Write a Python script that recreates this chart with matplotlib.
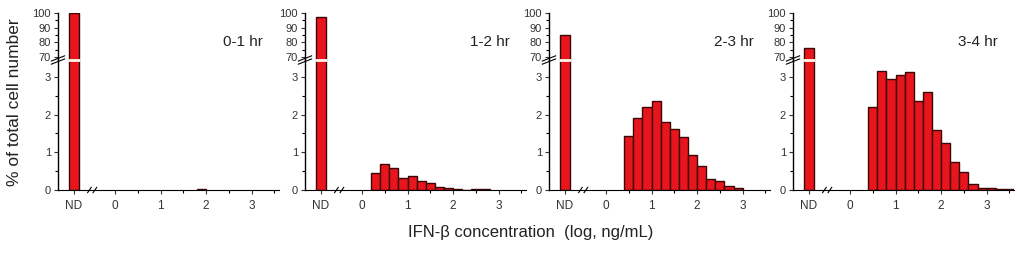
import matplotlib.pyplot as plt
from matplotlib.ticker import MultipleLocator
import numpy as np

plt.rcParams['font.family'] = ['Liberation Sans', 'DejaVu Sans']

# data
panel_titles = ['0-1 hr', '1-2 hr', '2-3 hr', '3-4 hr']
nd_values = [100, 97, 85, 76]
bin_width = 0.2

bins_01 = [1.8]
vals_01 = [0.02]

bins_12 = [0.2, 0.4, 0.6, 0.8, 1.0, 1.2, 1.4, 1.6, 1.8, 2.0, 2.2, 2.4, 2.6]
vals_12 = [0.44, 0.68, 0.59, 0.32, 0.36, 0.24, 0.18, 0.09, 0.06, 0.03, 0.0, 0.02, 0.02]

bins_23 = [0.4, 0.6, 0.8, 1.0, 1.2, 1.4, 1.6, 1.8, 2.0, 2.2, 2.4, 2.6, 2.8]
vals_23 = [1.43, 1.92, 2.19, 2.36, 1.80, 1.63, 1.40, 0.92, 0.65, 0.29, 0.25, 0.10, 0.04]

bins_34 = [0.4, 0.6, 0.8, 1.0, 1.2, 1.4, 1.6, 1.8, 2.0, 2.2, 2.4, 2.6, 2.8, 3.0, 3.2, 3.4]
vals_34 = [2.21, 3.17, 2.95, 3.05, 3.13, 2.36, 2.60, 1.60, 1.24, 0.74, 0.49, 0.16, 0.06, 0.04, 0.02, 0.02]

panel_bins = [bins_01, bins_12, bins_23, bins_34]
panel_vals = [vals_01, vals_12, vals_23, vals_34]

nd_pos = -0.9
xticks = [nd_pos, 0, 1, 2, 3]
xticklabels = ['ND', '0', '1', '2', '3']

face = '#e8161c'
edge = '#3a0505'

W, H = 1017, 254
fig = plt.figure(figsize=(W / 100, H / 100), dpi=100)

lefts = [58, 305, 549, 793]
width = 221
top_y0, top_y1 = 13, 60      # pixel rows from the top
bot_y0, bot_y1 = 60, 190

def px_rect(x, y0, y1):
    return [x / W, (H - y1) / H, width / W, (y1 - y0) / H]

for i in range(4):
    axt = fig.add_axes(px_rect(lefts[i], top_y0, top_y1))
    axb = fig.add_axes(px_rect(lefts[i], bot_y0, bot_y1))

    for ax in (axt, axb):
        ax.bar(nd_pos, nd_values[i], width=0.2, color=face, edgecolor=edge, linewidth=1)
        ax.bar(panel_bins[i], panel_vals[i], width=bin_width, align='edge',
               color=face, edgecolor=edge, linewidth=1)
        ax.set_xlim(-1.25, 3.6)
        for s in ('top', 'right'):
            ax.spines[s].set_visible(False)
        ax.spines['left'].set_linewidth(1)
        ax.tick_params(labelsize=8, length=3, width=0.8, colors='#333333', pad=2)
        ax.tick_params(which='minor', length=2, width=0.8)

    axt.set_ylim(68, 100)
    axt.spines['bottom'].set_visible(False)
    axt.set_xticks([])
    axt.set_yticks([70, 80, 90, 100])
    axt.yaxis.set_minor_locator(MultipleLocator(5))
    axt.text(2.8, 80, panel_titles[i], fontsize=11, ha='center', va='center',
             color='#222222')

    axb.set_ylim(0, 3.45)
    axb.set_yticks([0, 1, 2, 3])
    axb.yaxis.set_minor_locator(MultipleLocator(0.5))
    axb.set_xticks(xticks)
    axb.set_xticklabels(xticklabels)
    axb.set_xticks([0.5, 1.5, 2.5, 3.5], minor=True)
    axb.tick_params(axis='x', labelsize=8.5, pad=4)

    # white gap across the ND bar at the break
    axb.plot([nd_pos - 0.13, nd_pos + 0.13], [3.44, 3.44], color='#fff6ea', lw=2,
             clip_on=False, zorder=5, solid_capstyle='butt')
    # y-axis break marks
    for dy in (-0.012, 0.012):
        axb.plot([-0.03, 0.03], [1.0 + dy - 0.02, 1.0 + dy + 0.02], transform=axb.transAxes,
                 color='black', lw=0.8, clip_on=False)
    # x-axis break marks
    for dx in (-0.06, 0.06):
        axb.plot([-0.5 + dx - 0.04, -0.5 + dx + 0.04], [-0.07, 0.07], color='black',
                 lw=0.8, clip_on=False)

fig.text(15 / W, 1 - 102 / H, '% of total cell number', rotation=90, fontsize=12.5,
         ha='center', va='center', color='#222222')
fig.text(531 / W, 1 - 232 / H, 'IFN-\u03b2 concentration  (log, ng/mL)', fontsize=12,
         ha='center', va='center', color='#222222')

fig.savefig('out.png', dpi=100)
